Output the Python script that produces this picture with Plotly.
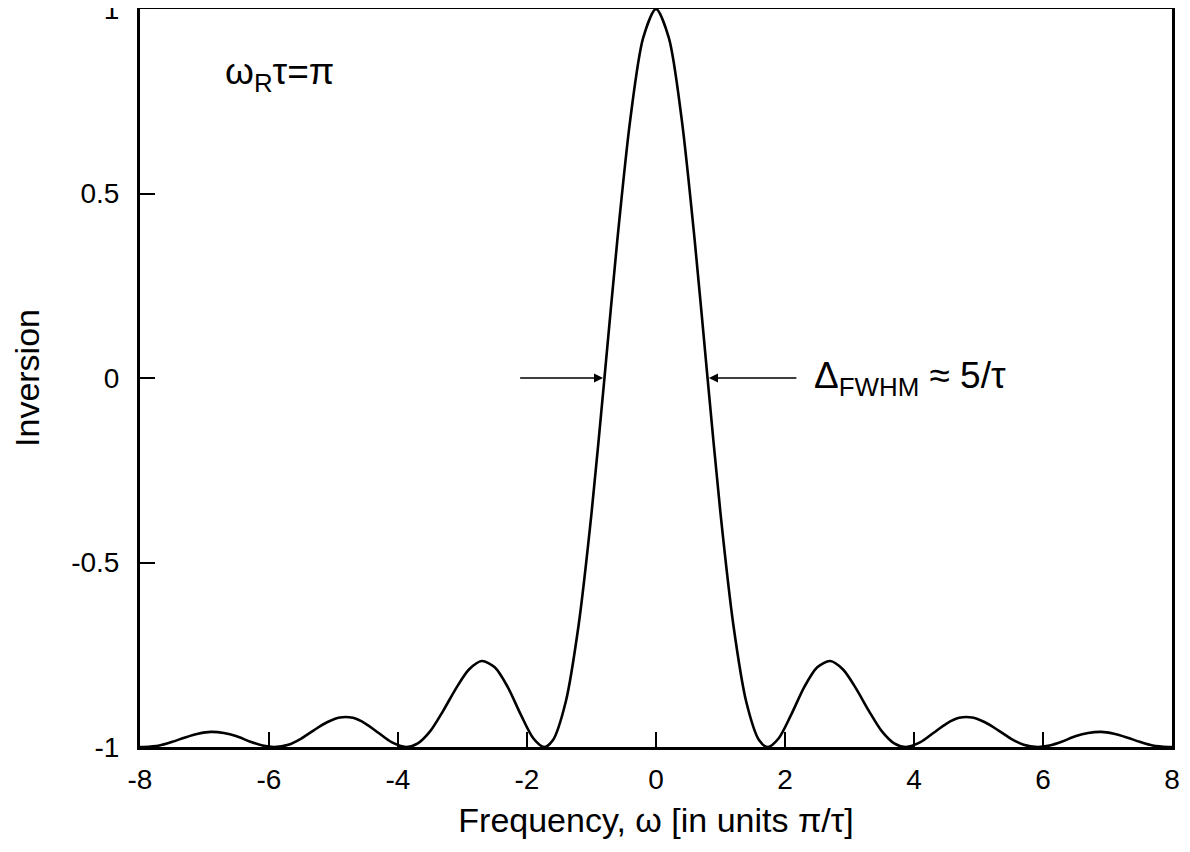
import plotly.graph_objects as go

# Frequency (units pi/tau), right half; mirrored for the left half (curve is symmetric)
omega_pos = [0.0, 0.2, 0.4, 0.6, 0.8, 1.0, 1.2, 1.4, 1.6, 1.732,
             1.9, 2.1, 2.3, 2.5, 2.7, 2.9, 3.1, 3.3, 3.5, 3.7, 3.873,
             4.1, 4.3, 4.5, 4.7, 4.9, 5.1, 5.3, 5.5, 5.7, 5.916,
             6.1, 6.3, 6.5, 6.7, 6.9, 7.1, 7.3, 7.5, 7.7, 7.94, 8.0]
inversion_pos = [1.0, 0.921, 0.699, 0.373, -0.002, -0.367, -0.670, -0.878, -0.982, -1.0,
                 -0.977, -0.911, -0.837, -0.784, -0.767, -0.790, -0.841, -0.902, -0.957, -0.991, -1.0,
                 -0.987, -0.962, -0.937, -0.921, -0.920, -0.933, -0.954, -0.977, -0.994, -1.0,
                 -0.996, -0.985, -0.971, -0.962, -0.959, -0.964, -0.974, -0.986, -0.996, -1.0, -1.0]

x_ticks = [-8, -6, -4, -2, 0, 2, 4, 6, 8]
x_tick_text = ["-8", "-6", "-4", "-2", "0", "2", "4", "6", "8"]
y_ticks = [-1, -0.5, 0, 0.5, 1]
y_tick_text = ["-1", "-0.5", "0", "0.5", "1"]

omega = [-v for v in omega_pos[:0:-1]] + omega_pos
inversion = inversion_pos[:0:-1] + inversion_pos

FONT = "Liberation Sans, Arial, Helvetica, sans-serif"

fig = go.Figure()
fig.add_trace(go.Scatter(x=omega, y=inversion, mode="lines",
                         line=dict(color="black", width=2.6, shape="spline", smoothing=0.8),
                         showlegend=False, hoverinfo="skip"))

# FWHM arrows
fig.add_annotation(x=-0.82, y=0, ax=-2.13, ay=0, xref="x", yref="y", axref="x", ayref="y",
                   showarrow=True, arrowhead=2, arrowsize=1.4, arrowwidth=1.3, arrowcolor="black", text="")
fig.add_annotation(x=0.82, y=0, ax=2.2, ay=0, xref="x", yref="y", axref="x", ayref="y",
                   showarrow=True, arrowhead=2, arrowsize=1.4, arrowwidth=1.3, arrowcolor="black", text="")
fig.add_annotation(x=2.42, y=0, xref="x", yref="y", xanchor="left", yanchor="middle",
                   text="Δ<sub>FWHM</sub> ≈ 5/τ", showarrow=False,
                   font=dict(family=FONT, size=37, color="black"))
fig.add_annotation(x=-6.72, y=0.825, xref="x", yref="y", xanchor="left", yanchor="middle",
                   text="ω<sub>R</sub>τ=π", showarrow=False,
                   font=dict(family=FONT, size=37, color="black"))

# page body has an 8px default margin, so the figure is sized to fit the window
fig.update_layout(
    width=1182, height=844,
    margin=dict(l=132, r=18, t=1, b=105),
    paper_bgcolor="white", plot_bgcolor="white",
    font=dict(family=FONT, size=28, color="black"),
)
fig.update_xaxes(range=[-8, 8], tickvals=x_ticks, ticktext=x_tick_text, ticks="inside", ticklen=15,
                 tickwidth=1.5, tickcolor="black", showline=True, linecolor="black", linewidth=3,
                 mirror=True, showgrid=False, zeroline=False, tickfont=dict(size=28),
                 ticklabelstandoff=5, ticklabeloverflow="allow", automargin=False,
                 title=dict(text="Frequency, ω [in units π/τ]", font=dict(size=34), standoff=15))
fig.update_yaxes(range=[-1, 1], tickvals=y_ticks, ticktext=y_tick_text, ticks="inside", ticklen=15,
                 tickwidth=1.5, tickcolor="black", showline=True, linecolor="black", linewidth=3,
                 mirror=True, showgrid=False, zeroline=False, tickfont=dict(size=28),
                 ticklabelstandoff=12, ticklabeloverflow="allow", automargin=False,
                 title=dict(text="Inversion", font=dict(size=34), standoff=32))

fig.write_html("out.html")
